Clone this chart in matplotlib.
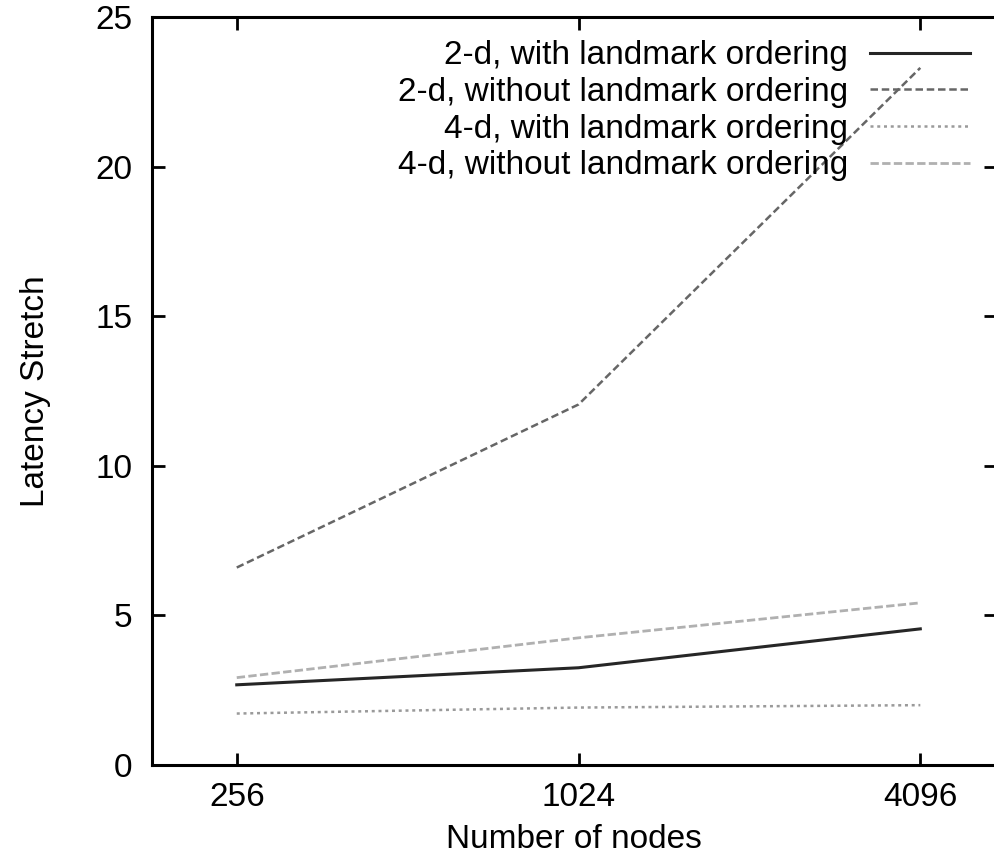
import matplotlib
matplotlib.use("Agg")
import matplotlib.pyplot as plt

plt.rcParams['font.family'] = ['Liberation Sans', 'DejaVu Sans']

nodes = [256, 1024, 4096]
labels = ["2-d, with landmark ordering",
          "2-d, without landmark ordering",
          "4-d, with landmark ordering",
          "4-d, without landmark ordering"]
stretch_2d_lm = [2.68, 3.25, 4.55]
stretch_2d_nolm = [6.6, 12.05, 23.3]
stretch_4d_lm = [1.72, 1.92, 2.0]
stretch_4d_nolm = [2.92, 4.25, 5.42]

fig = plt.figure(figsize=(9.95, 8.58), dpi=100)
ax = fig.add_axes([152 / 995, 1 - 765 / 858, 844 / 995, 748 / 858])

ax.plot(nodes, stretch_2d_lm, color='#262626', lw=2.2, label=labels[0])
ax.plot(nodes, stretch_2d_nolm, color='#666666', lw=1.8, dashes=(3, 1.5), label=labels[1])
ax.plot(nodes, stretch_4d_lm, color='#9a9a9a', lw=1.8, dashes=(1.2, 1.5), label=labels[2])
ax.plot(nodes, stretch_4d_nolm, color='#b0b0b0', lw=2.0, dashes=(3, 1.2), label=labels[3])

ax.set_xscale('log', base=2)
ax.set_xlim(2 ** 7.504, 2 ** 12.443)
ax.set_ylim(0, 25)
ax.set_xticks(nodes)
ax.set_xticklabels([str(n) for n in nodes])
ax.set_yticks([0, 5, 10, 15, 20, 25])
ax.minorticks_off()
ax.tick_params(direction='in', length=9, width=2, top=True, right=True,
               labelsize=24, pad=14)
ax.tick_params(axis='x', pad=12)
for sp in ax.spines.values():
    sp.set_linewidth(2.2)

ax.set_xlabel("Number of nodes", fontsize=24, labelpad=8)
ax.set_ylabel("Latency Stretch", fontsize=24, labelpad=32)

ax.legend(loc='upper right', bbox_to_anchor=(0.969, 0.969), frameon=False,
          markerfirst=False, fontsize=24, handlelength=3.0, handletextpad=0.66,
          labelspacing=0.17, borderpad=0, borderaxespad=0)

fig.savefig("out.png", dpi=100)
